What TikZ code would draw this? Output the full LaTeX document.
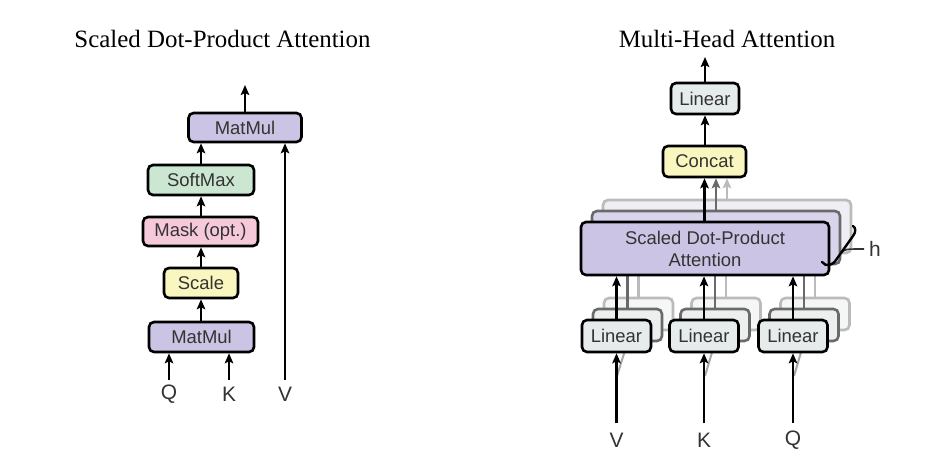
\documentclass[tikz,border=0pt]{standalone}
\usepackage{fontspec}
\setmainfont{Liberation Serif}
\setsansfont{Liberation Sans}
\usetikzlibrary{arrows.meta}
\definecolor{mmpurple}{HTML}{CBC4E4}
\definecolor{smgreen}{HTML}{CBE7D2}
\definecolor{mkpink}{HTML}{F5C9DA}
\definecolor{scyellow}{HTML}{FAF6C0}
\definecolor{lingray}{HTML}{E6ECEB}
\definecolor{txtgray}{HTML}{333333}
\definecolor{sdpaB}{HTML}{D9D4EC}
\definecolor{sdpaC}{HTML}{EFEEF4}
\definecolor{linB}{HTML}{EDEFEF}
\definecolor{linC}{HTML}{F5F6F6}
\definecolor{edgeB}{HTML}{6A6A6A}
\definecolor{edgeC}{HTML}{BBBBBB}
\begin{document}
\begin{tikzpicture}[x=1bp,y=-1bp,
  box/.style={draw=black, line width=2.6bp, rounded corners=5bp,
    font=\sffamily\fontsize{18.5}{22}\selectfont, text=txtgray,
    inner sep=0pt, minimum height=30bp, align=center},
  layerB/.style={box, draw=edgeB},
  layerC/.style={box, draw=edgeC},
  arr/.style={line width=2.6bp, -{Stealth[length=10bp,width=8.5bp,inset=2bp]}},
  lbl/.style={font=\sffamily\fontsize{21}{24}\selectfont, text=txtgray},
  ttl/.style={font=\fontsize{25}{30}\selectfont, anchor=base}]
\useasboundingbox (0,0) rectangle (940,453);

% ---------- titles ----------
\node[ttl] (t1) at (222.5,48) {Scaled Dot-Product Attention};
\node[ttl] (t2) at (727,48) {Multi-Head Attention};

% ---------- left: scaled dot-product attention ----------
\node[box, fill=mmpurple, minimum width=113bp, minimum height=29bp] (mm2) at (245,127.5) {MatMul};
\node[box, fill=smgreen, minimum width=106bp] (sm) at (201,180) {SoftMax};
\node[box, fill=mkpink, minimum width=115bp, minimum height=29bp] (mk) at (200.5,231.5) {Mask (opt.)};
\node[box, fill=scyellow, minimum width=74bp] (sc) at (201,283) {Scale};
\node[box, fill=mmpurple, minimum width=105bp] (mm1) at (201.5,337) {MatMul};

\draw[arr] (sc.south |- mm1.north) -- (sc.south);
\draw[arr] (sc.north) -- (sc.north |- mk.south);
\draw[arr] (sc.north |- mk.north) -- (sc.north |- sm.south);
\draw[arr] (sc.north |- sm.north) -- (sc.north |- mm2.south);
\coordinate (o1) at (245,85);
\draw[arr] (mm2.north) -- (o1);

\node[lbl] (q1) at (169,394) {Q};
\node[lbl] (k1) at (229,394) {K};
\node[lbl] (v1) at (285,394) {V};
\coordinate (q1s) at (169,380);
\coordinate (k1s) at (229,380);
\coordinate (v1s) at (285,380);
\draw[arr] (q1s) -- (q1s |- mm1.south);
\draw[arr] (k1s) -- (k1s |- mm1.south);
\draw[arr] (v1s) -- (v1s |- mm2.south);

% ---------- right: multi-head attention ----------
% SDPA stacked layers
\node[layerC, fill=sdpaC, minimum width=248bp, minimum height=53bp] (sdC) at (727,226.5) {};
\node[layerB, fill=sdpaB, minimum width=248bp, minimum height=53bp] (sdB) at (716,237.5) {};

% Linear stacked layers
\foreach \n/\cx in {a/616.5, b/704, c/793} {
  \node[layerC, fill=linC, minimum width=69bp, minimum height=32bp] (l\n C) at (\cx+22,314) {};
  \node[layerB, fill=linB, minimum width=69bp, minimum height=32bp] (l\n B) at (\cx+11,325) {};
}
% shadow arrows from stacked linear layers to stacked attention
\foreach \n in {a,b,c} {
  \draw[arr, draw=edgeB] (l\n B.north) -- (l\n B.north |- sdB.south);
  \draw[arr, draw=edgeC] (l\n C.north) -- (l\n C.north |- sdC.south);
}
% faint shadow inputs
\coordinate (sa) at (617,376);
\coordinate (sb) at (705,376);
\coordinate (scc) at (794,376);
\draw[line width=2bp, draw=edgeB, opacity=0.6] (sa) -- (laB.south);
\draw[line width=2bp, draw=edgeB, opacity=0.6] (sb) -- (lbB.south);
\draw[line width=2bp, draw=edgeB, opacity=0.6] (scc) -- (lcB.south);

% front boxes
\node[box, fill=mmpurple, minimum width=248bp, minimum height=53bp] (sdpa) at (705,248.5) {Scaled Dot-Product\\Attention};
\node[box, fill=lingray, minimum width=69bp, minimum height=32bp] (la) at (616.5,336) {Linear};
\node[box, fill=lingray, minimum width=69bp, minimum height=32bp] (lb) at (704,336) {Linear};
\node[box, fill=lingray, minimum width=69bp, minimum height=32bp] (lc) at (793,336) {Linear};
\node[box, fill=scyellow, minimum width=83bp, minimum height=31bp] (cc) at (704.5,161.5) {Concat};
\node[box, fill=lingray, minimum width=68bp, minimum height=31bp] (lt) at (705,98.5) {Linear};

% arrows
\draw[arr, draw=edgeC] (sdC.north) -- (sdC.north |- cc.south);
\draw[arr, draw=edgeB] (sdB.north) -- (sdB.north |- cc.south);
\draw[arr] (cc.south |- sdpa.north) -- (cc.south |- cc.south);
\draw[arr] (lt.south |- cc.north) -- (lt.south);
\coordinate (o2) at (705,57);
\draw[arr] (lt.north) -- (o2);

\draw[arr] (la.north) -- (la.north |- sdpa.south);
\draw[arr] (lb.north) -- (lb.north |- sdpa.south);
\draw[arr] (lc.north) -- (lc.north |- sdpa.south);

\node[lbl] (v2) at (616.5,440) {V};
\node[lbl] (k2) at (704,440) {K};
\node[lbl] (q2) at (793,440) {Q};
\coordinate (v2s) at (616.5,423);
\coordinate (k2s) at (704,423);
\coordinate (q2s) at (793,423);
\draw[arr] (v2s) -- (la.south);
\draw[arr] (k2s) -- (lb.south);
\draw[arr] (q2s) -- (lc.south);

% h brace
\draw[line width=1.6bp, draw=txtgray] (841,253) .. controls (845,249) .. (864,249);
\draw[line width=2.4bp, line cap=round] (822,262) .. controls (826,267) and (832,266) .. (836,260) -- (853,236) .. controls (856,232) and (856,228) .. (853,226);
\node[lbl] (h) at (875,249) {h};
\end{tikzpicture}
\end{document}
